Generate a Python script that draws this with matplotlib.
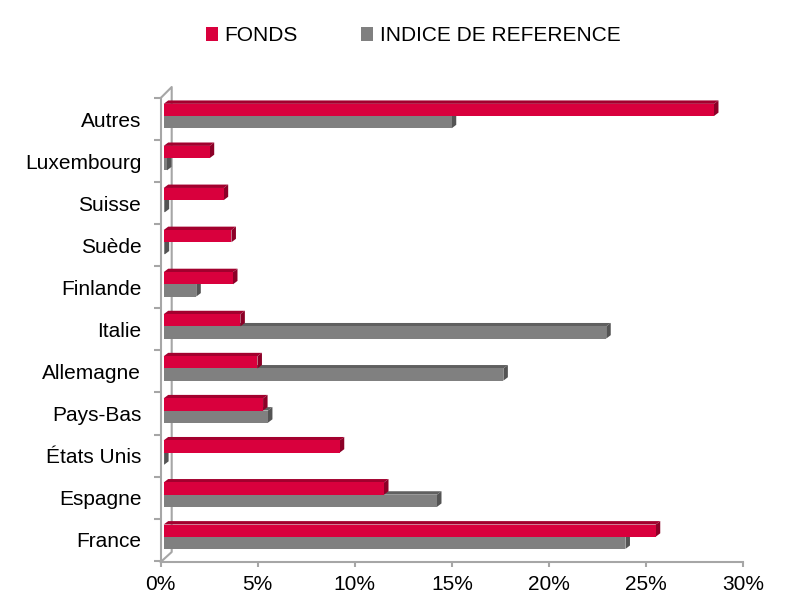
import numpy as np
import matplotlib
matplotlib.use("Agg")
import matplotlib.pyplot as plt
from matplotlib.patches import Polygon

plt.rcParams['font.family'] = ['Liberation Sans', 'DejaVu Sans']

# Données (de bas en haut)
pays = ["France", "Espagne", "États Unis", "Pays-Bas", "Allemagne", "Italie",
        "Finlande", "Suède", "Suisse", "Luxembourg", "Autres"]
fonds = [25.35, 11.35, 9.07, 5.12, 4.83, 3.95, 3.57, 3.49, 3.09, 2.37, 28.35]
indice = [23.79, 14.08, 0.02, 5.37, 17.5, 22.8, 1.68, 0.05, 0.05, 0.17, 14.84]
ticks_x = [0, 5, 10, 15, 20, 25, 30]

rouge = ("#D9003D", "#A3002E", "#8C0027")   # face, dessus, côté
gris = ("#808080", "#606060", "#545454")
axe_col = "#A6A6A6"

fig = plt.figure(figsize=(7.92, 5.99), dpi=100)
ax = fig.add_axes([160.7 / 792, 37 / 599, (743 - 160.7) / 792, 464 / 599])
ax.set_xlim(0, 30)
ax.set_ylim(-0.53, 10.5)

# pixels par unité
p0 = ax.transData.transform((0, 0))
p1 = ax.transData.transform((1, 1))
px_x, px_y = p1[0] - p0[0], p1[1] - p0[1]

ox, oy = 3 / px_x, 3 / px_y        # décalage de la face avant
dx, dy = 4.5 / px_x, 3.4 / px_y    # profondeur des barres
h = 0.29

y = np.arange(len(pays))


def faces(y0, vals, col, z):
    for yy, v in zip(y0, vals):
        x0, x1 = ox, ox + v
        y1 = yy + h
        top = Polygon([(x0, y1), (x1, y1), (x1 + dx, y1 + dy), (x0 + dx, y1 + dy)],
                      closed=True, fc=col[1], ec="none", zorder=z)
        side = Polygon([(x1, yy), (x1 + dx, yy + dy), (x1 + dx, y1 + dy), (x1, y1)],
                       closed=True, fc=col[2], ec="none", zorder=z)
        ax.add_patch(top)
        ax.add_patch(side)
    return ax.barh(y0, vals, height=h, left=ox, align="edge", color=col[0], zorder=z + 0.1)


b2 = faces(y + oy - h, indice, gris, 2)
b1 = faces(y + oy, fonds, rouge, 3)

# axes
for s in ["top", "right"]:
    ax.spines[s].set_visible(False)
for s in ["left", "bottom"]:
    ax.spines[s].set_color(axe_col)
    ax.spines[s].set_linewidth(1.5)

ax.set_xticks(ticks_x)
ax.set_xticklabels([f"{t}%" for t in ticks_x])
ax.tick_params(axis="x", length=3.6, width=1.5, color=axe_col, pad=6, labelsize=15)

ax.set_yticks(y)
ax.set_yticklabels(pays)
ax.set_yticks(np.arange(-0.5, len(pays), 1), minor=True)
ax.tick_params(axis="y", which="major", length=0, pad=14, labelsize=15)
ax.tick_params(axis="y", which="minor", length=5, width=1.5, color=axe_col)

# paroi du fond
bx = 11 / px_x
ylo, yhi = ax.get_ylim()
ax.plot([0, bx, bx, 0], [ylo, ylo + 10 / px_y, yhi + 11 / px_y, yhi],
        color=axe_col, lw=1.5, clip_on=False, zorder=1)

fig.legend([b1, b2], ["FONDS", "INDICE DE REFERENCE"], loc="center",
           bbox_to_anchor=(413 / 792, 1 - 35.7 / 599), ncol=2, frameon=False,
           fontsize=15, handlelength=0.62, handleheight=0.62, handletextpad=0.3,
           columnspacing=3.0)

fig.savefig("out.png", dpi=100)
